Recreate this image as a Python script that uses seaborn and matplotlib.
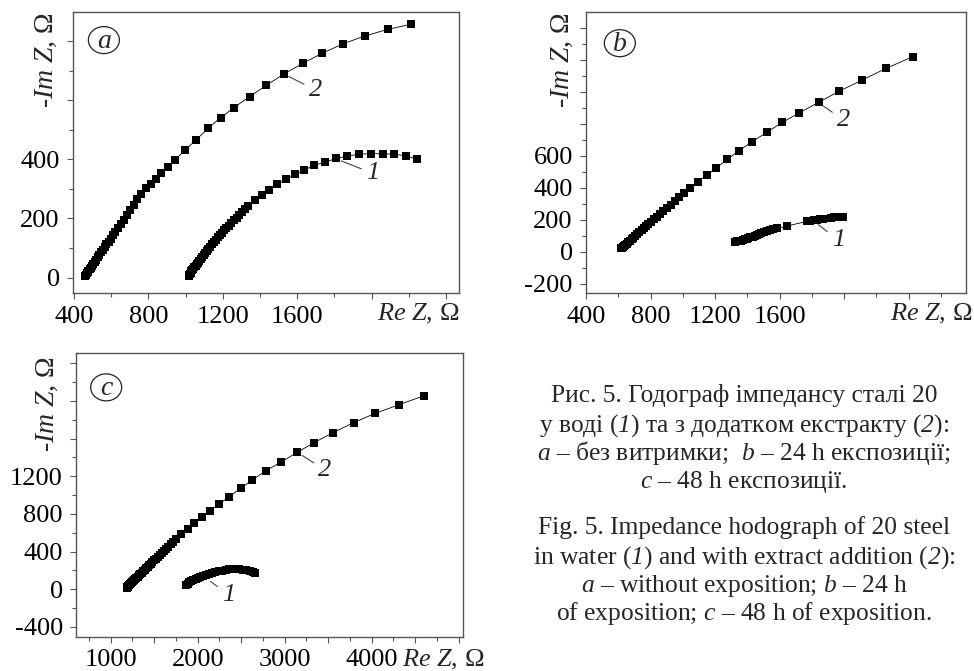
import matplotlib
matplotlib.use('Agg')
import matplotlib.pyplot as plt
from matplotlib.patches import Ellipse
import seaborn as sns

# ---- data read off the hodographs (Re Z, -Im Z in Ohm) ----
# panel a: no exposure
re_a1 = [1018, 1021, 1024, 1028, 1032, 1037, 1042, 1048, 1054, 1060,
         1067, 1074, 1081, 1089, 1097, 1105, 1114, 1123, 1132, 1142,
         1152, 1163, 1174, 1185, 1196, 1208, 1220, 1233, 1246, 1260,
         1274, 1289, 1304, 1320, 1337, 1373, 1411, 1450, 1494, 1540,
         1589, 1639, 1693, 1751, 1811, 1870, 1933, 1996, 2059, 2122,
         2186, 2243]
im_a1 = [7, 10, 13, 17, 21, 25, 30, 35, 40, 45,
         51, 57, 63, 70, 77, 84, 91, 98, 105, 112,
         120, 128, 136, 144, 152, 160, 168, 176, 185, 194,
         203, 212, 222, 232, 242, 261, 278, 296, 315, 332,
         349, 364, 380, 391, 403, 411, 417, 419, 419, 417,
         412, 400]
re_a2 = [460, 462, 465, 469, 473, 478, 484, 490, 497, 504,
         512, 520, 528, 537, 546, 555, 565, 575, 586, 597,
         609, 622, 636, 651, 667, 684, 702, 721, 741, 763,
         787, 812, 840, 870, 905, 944, 998, 1056, 1121, 1189,
         1261, 1344, 1434, 1528, 1629, 1733, 1845, 1964, 2086, 2213]
im_a2 = [5, 7, 10, 14, 18, 23, 28, 34, 40, 47,
         54, 61, 69, 77, 86, 95, 104, 113, 122, 132,
         143, 155, 167, 181, 196, 212, 229, 247, 265, 284,
         302, 318, 334, 353, 375, 398, 432, 465, 505, 541,
         575, 612, 650, 688, 724, 758, 790, 817, 839, 857]

# panel b: 24 h exposure
re_b1 = [1323, 1335, 1347, 1359, 1371, 1383, 1395, 1407, 1419, 1432,
         1445, 1458, 1472, 1487, 1503, 1520, 1539, 1560, 1582, 1644,
         1770, 1790, 1810, 1830, 1850, 1870, 1920, 1940, 1960, 1980,
         1992]
im_b1 = [62, 64, 67, 70, 73, 77, 81, 85, 89, 94,
         99, 104, 109, 115, 121, 127, 133, 140, 146, 160,
         190, 194, 198, 201, 204, 206, 212, 214, 215, 215,
         215]
re_b2 = [617, 622, 628, 635, 643, 652, 662, 672, 683, 694,
         706, 718, 731, 744, 758, 772, 787, 803, 820, 838,
         857, 878, 900, 924, 950, 978, 1010, 1045, 1092, 1148,
         1208, 1276, 1347, 1429, 1520, 1617, 1723, 1841, 1971, 2112,
         2260, 2426]
im_b2 = [21, 25, 30, 36, 43, 51, 59, 68, 78, 88,
         99, 110, 122, 134, 147, 160, 174, 188, 203, 219,
         236, 254, 273, 294, 316, 340, 367, 396, 437, 479,
         525, 577, 631, 687, 746, 808, 869, 933, 1004, 1073,
         1146, 1219]

# panel c: 48 h exposure
re_c1 = [1866, 1885, 1905, 1927, 1950, 1975, 2002, 2030, 2060, 2092,
         2126, 2162, 2200, 2240, 2280, 2320, 2360, 2400, 2440, 2480,
         2520, 2560, 2600, 2640, 2660]
im_c1 = [46, 60, 72, 84, 96, 108, 120, 132, 143, 153,
         163, 172, 181, 190, 199, 207, 212, 215, 215, 213,
         208, 201, 193, 183, 177]
re_c2 = [1184, 1189, 1196, 1204, 1213, 1223, 1234, 1245, 1257, 1269,
         1282, 1296, 1310, 1325, 1340, 1356, 1372, 1389, 1406, 1424,
         1442, 1461, 1480, 1500, 1521, 1542, 1564, 1587, 1611, 1636,
         1662, 1690, 1720, 1752, 1809, 1886, 1962, 2046, 2141, 2248,
         2363, 2496, 2630, 2783, 2962, 3145, 3340, 3557, 3794, 4042,
         4309, 4596]
im_c2 = [13, 19, 26, 34, 43, 53, 63, 74, 85, 97,
         109, 122, 135, 149, 163, 177, 192, 207, 223, 239,
         255, 272, 289, 307, 326, 345, 364, 385, 406, 428,
         451, 476, 502, 530, 584, 637, 701, 765, 832, 906,
         984, 1073, 1161, 1260, 1352, 1455, 1558, 1664, 1770, 1869,
         1958, 2053]

# tick values
xt_a = [400, 800, 1200, 1600, 2000, 2400]
xt_a_lab = [400, 800, 1200, 1600]
yt_a = [0, 200, 400, 600, 800]
yt_a_lab = [0, 200, 400]
xt_b = [400, 800, 1200, 1600, 2000, 2400]
xt_b_lab = [400, 800, 1200, 1600]
yt_b = [-200, 0, 200, 400, 600, 800, 1000, 1200, 1400]
yt_b_lab = [-200, 0, 200, 400, 600]
xt_c = [1000, 1500, 2000, 2500, 3000, 3500, 4000, 4500, 5000]
xt_c_lab = [1000, 2000, 3000, 4000]
yt_c = [-400, 0, 400, 800, 1200, 1600, 2000, 2400]
yt_c_lab = [-400, 0, 400, 800, 1200]

# italic parts go through \mathsf, which is mapped to the italic serif below
caption_uk = [
    'Рис. 5. Годограф імпедансу сталі 20',
    r'у воді ($\mathsf{1}$) та з додатком екстракту ($\mathsf{2}$):',
    r'$\mathsf{a}$ – без витримки;  $\mathsf{b}$ – 24 h експозиції;',
    r'$\mathsf{c}$ – 48 h експозиції.',
]
caption_en = [
    'Fig. 5. Impedance hodograph of 20 steel',
    r'in water ($\mathsf{1}$) and with extract addition ($\mathsf{2}$):',
    r'$\mathsf{a}$ – without exposition; $\mathsf{b}$ – 24 h',
    r'of exposition; $\mathsf{c}$ – 48 h of exposition.',
]

sns.set_style('ticks')
plt.rcParams['font.family'] = ['Liberation Serif', 'DejaVu Serif']
plt.rcParams['mathtext.fontset'] = 'custom'
plt.rcParams['mathtext.rm'] = 'Liberation Serif'
plt.rcParams['mathtext.it'] = 'Liberation Serif:italic'
plt.rcParams['mathtext.sf'] = 'Liberation Serif:italic'
plt.rcParams['axes.unicode_minus'] = False

W, H = 974, 671
fig = plt.figure(figsize=(W / 100, H / 100), dpi=100)
fig.patch.set_facecolor('white')


def px_axes(l, t, r, b):
    return fig.add_axes([l / W, 1 - b / H, (r - l) / W, (b - t) / H])


def style_axes(ax, xlim, ylim, xt, xt_lab, yt, yt_lab, xpad=5):
    ax.set_xlim(xlim)
    ax.set_ylim(ylim)
    ax.set_xticks(xt)
    ax.set_xticklabels([str(v) if v in xt_lab else '' for v in xt])
    ax.set_yticks(yt)
    ax.set_yticklabels([str(v) if v in yt_lab else '' for v in yt])
    dx = xt[1] - xt[0]
    dy = yt[1] - yt[0]
    ax.xaxis.set_minor_locator(matplotlib.ticker.MultipleLocator(dx / 2))
    ax.yaxis.set_minor_locator(matplotlib.ticker.MultipleLocator(dy / 2))
    ax.tick_params(which='major', direction='out', length=4.5, width=0.8,
                   color='#555555', labelsize=19, labelcolor='black')
    ax.tick_params(which='minor', direction='out', length=3, width=0.8,
                   color='#555555')
    ax.tick_params(axis='x', which='major', pad=xpad)
    ax.tick_params(axis='y', which='major', pad=5)
    for s in ax.spines.values():
        s.set_visible(True)
        s.set_color('#555555')
        s.set_linewidth(1.0)
    ax.set_xlabel('')
    ax.set_ylabel('')


def draw_series(ax, re, im):
    sns.lineplot(x=re, y=im, sort=False, estimator=None, ax=ax,
                 color='black', linewidth=0.6, marker='s', markersize=6.2,
                 markeredgewidth=0, markerfacecolor='black')


def tag(ax, x, y, letter):
    ax.add_patch(Ellipse((x, y), 31 / ax.bbox.width, 27 / ax.bbox.height,
                         transform=ax.transAxes, fill=False, ec='#222222', lw=0.9))
    ax.text(x, y - 0.004, letter, transform=ax.transAxes, ha='center', va='center',
            fontsize=20, style='italic')


def curve_label(ax, txt, text_xy, point_xy):
    ax.annotate(txt, xy=point_xy, xytext=text_xy, ha='center', va='center',
                fontsize=19, style='italic',
                arrowprops=dict(arrowstyle='-', color='#444444', lw=0.8,
                                shrinkA=1, shrinkB=3))


ylab = r'-$\mathit{Im\ Z}$, Ω'
xlab = r'$\mathit{Re\ Z}$, Ω'

# panel a
ax_a = px_axes(73, 12, 459, 293)
draw_series(ax_a, re_a1, im_a1)
draw_series(ax_a, re_a2, im_a2)
style_axes(ax_a, (395, 2470), (-52, 898), xt_a, xt_a_lab, yt_a, yt_a_lab)
curve_label(ax_a, '2', (1697, 635), (1535, 686))
curve_label(ax_a, '1', (2005, 353), (1815, 400))
tag(ax_a, 0.080, 0.900, 'a')
ax_a.text(-0.070, 1.0, ylab, transform=ax_a.transAxes, rotation=90,
          ha='center', va='top', fontsize=20)
ax_a.text(1.0, -0.096, xlab, transform=ax_a.transAxes, ha='right',
          va='baseline', fontsize=19)

# panel b
ax_b = px_axes(586, 12, 966, 293)
draw_series(ax_b, re_b1, im_b1)
draw_series(ax_b, re_b2, im_b2)
style_axes(ax_b, (400, 2755), (-258, 1498), xt_b, xt_b_lab, yt_b, yt_b_lab)
curve_label(ax_b, '2', (1995, 823), (1850, 925))
curve_label(ax_b, '1', (1964, 73), (1819, 185))
tag(ax_b, 0.089, 0.889, 'b')
ax_b.text(-0.063, 1.0, ylab, transform=ax_b.transAxes, rotation=90,
          ha='center', va='top', fontsize=20)
ax_b.text(1.018, -0.096, xlab, transform=ax_b.transAxes, ha='right',
          va='baseline', fontsize=19)

# panel c
ax_c = px_axes(76, 353, 463, 637)
draw_series(ax_c, re_c1, im_c1)
draw_series(ax_c, re_c2, im_c2)
style_axes(ax_c, (601, 5050), (-507, 2509), xt_c, xt_c_lab, yt_c, yt_c_lab, xpad=4.5)
curve_label(ax_c, '2', (3463, 1267), (3160, 1445))
curve_label(ax_c, '1', (2352, -60), (2110, 110))
tag(ax_c, 0.078, 0.879, 'c')
ax_c.text(-0.075, 0.987, ylab, transform=ax_c.transAxes, rotation=90,
          ha='center', va='top', fontsize=20)
ax_c.text(0.842, -0.102, xlab, transform=ax_c.transAxes, ha='left',
          va='baseline', fontsize=19)

# caption
for line, yb in zip(caption_uk, [401.7, 431.7, 460, 488.3]):
    fig.text(744 / W, 1 - yb / H, line, ha='center', va='baseline', fontsize=18.4)
for line, yb in zip(caption_en, [534, 563.3, 591.7, 620]):
    fig.text(744 / W, 1 - yb / H, line, ha='center', va='baseline', fontsize=18.4)

fig.savefig('out.png', dpi=100, facecolor='white')
